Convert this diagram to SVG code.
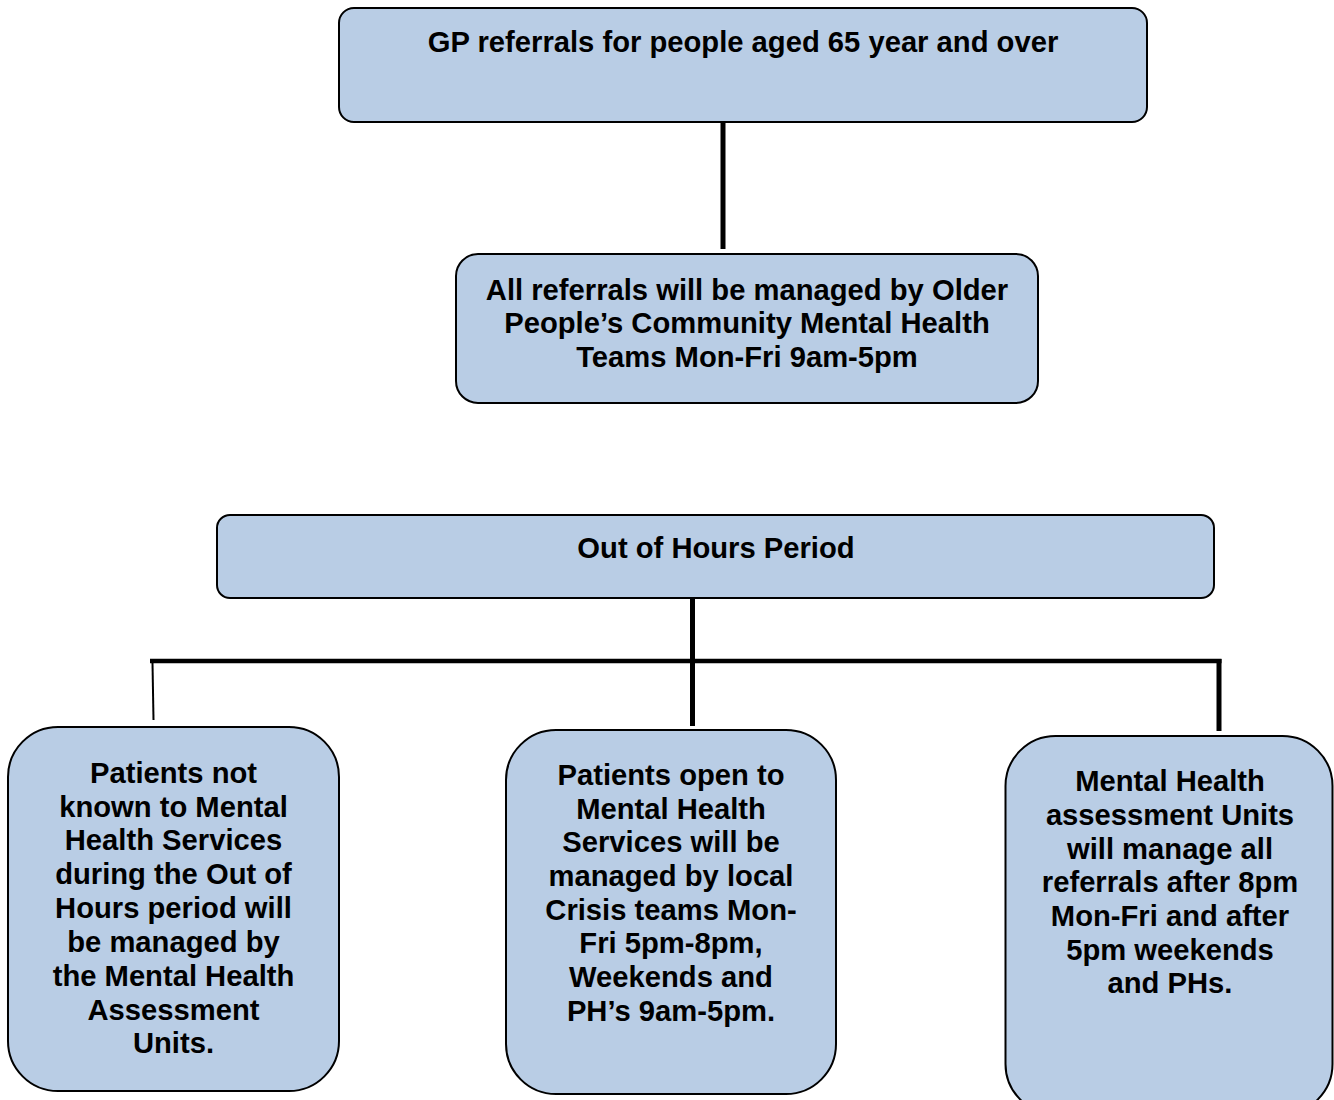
<svg xmlns="http://www.w3.org/2000/svg" width="1334" height="1100" viewBox="0 0 1334 1100">
  <style>
    .box { fill: #B9CDE5; stroke: #000; stroke-width: 2; }
    .lbl { font-family: "Liberation Sans", Arial, sans-serif; font-weight: bold; font-size: 29.2px; fill: #000; text-anchor: middle; }
    .wire { stroke: #000; fill: none; stroke-linecap: butt; }
  </style>
  <rect width="1334" height="1100" fill="#fff"/>

  <!-- connectors -->
  <g id="connectors">
    <line class="wire" x1="723" y1="122" x2="723" y2="249" stroke-width="5"/>
    <line class="wire" x1="692.5" y1="598" x2="692.5" y2="726" stroke-width="5"/>
    <line class="wire" x1="150" y1="661" x2="1221.5" y2="661" stroke-width="4.5"/>
    <line class="wire" x1="1219" y1="659" x2="1219" y2="731" stroke-width="5"/>
    <line class="wire" x1="152.5" y1="663" x2="153.5" y2="720" stroke-width="2"/>
  </g>

  <g id="gp-referrals">
    <rect class="box" x="339" y="8" width="808" height="114" rx="15"/>
    <text class="lbl" x="743" y="52">GP referrals for people aged 65 year and over</text>
  </g>

  <g id="opcmht">
    <rect class="box" x="456" y="254" width="582" height="149" rx="22"/>
    <text class="lbl" x="747" y="299.5">All referrals will be managed by Older</text>
    <text class="lbl" x="747" y="333">People’s Community Mental Health</text>
    <text class="lbl" x="747" y="367">Teams Mon-Fri 9am-5pm</text>
  </g>

  <g id="out-of-hours">
    <rect class="box" x="217" y="515" width="997" height="83" rx="13"/>
    <text class="lbl" x="716" y="558">Out of Hours Period</text>
  </g>

  <g id="not-known">
    <rect class="box" x="8" y="727" width="331" height="364" rx="50"/>
    <text class="lbl" x="173.5" y="782.5">Patients not</text>
    <text class="lbl" x="173.5" y="816.5">known to Mental</text>
    <text class="lbl" x="173.5" y="850">Health Services</text>
    <text class="lbl" x="173.5" y="884">during the Out of</text>
    <text class="lbl" x="173.5" y="918">Hours period will</text>
    <text class="lbl" x="173.5" y="951.5">be managed by</text>
    <text class="lbl" x="173.5" y="985.5">the Mental Health</text>
    <text class="lbl" x="173.5" y="1019.5">Assessment</text>
    <text class="lbl" x="173.5" y="1053">Units.</text>
  </g>

  <g id="open-to-services">
    <rect class="box" x="506" y="730" width="330" height="364" rx="50"/>
    <text class="lbl" x="671" y="785">Patients open to</text>
    <text class="lbl" x="671" y="818.5">Mental Health</text>
    <text class="lbl" x="671" y="852">Services will be</text>
    <text class="lbl" x="671" y="886">managed by local</text>
    <text class="lbl" x="671" y="919.5">Crisis teams Mon-</text>
    <text class="lbl" x="671" y="953">Fri 5pm-8pm,</text>
    <text class="lbl" x="671" y="987">Weekends and</text>
    <text class="lbl" x="671" y="1020.5">PH’s 9am-5pm.</text>
  </g>

  <g id="assessment-units">
    <rect class="box" x="1005.5" y="736" width="327" height="378" rx="50"/>
    <text class="lbl" x="1170" y="791">Mental Health</text>
    <text class="lbl" x="1170" y="824.5">assessment Units</text>
    <text class="lbl" x="1170" y="858.5">will manage all</text>
    <text class="lbl" x="1170" y="892">referrals after 8pm</text>
    <text class="lbl" x="1170" y="925.5">Mon-Fri and after</text>
    <text class="lbl" x="1170" y="959.5">5pm weekends</text>
    <text class="lbl" x="1170" y="993">and PHs.</text>
  </g>
</svg>
